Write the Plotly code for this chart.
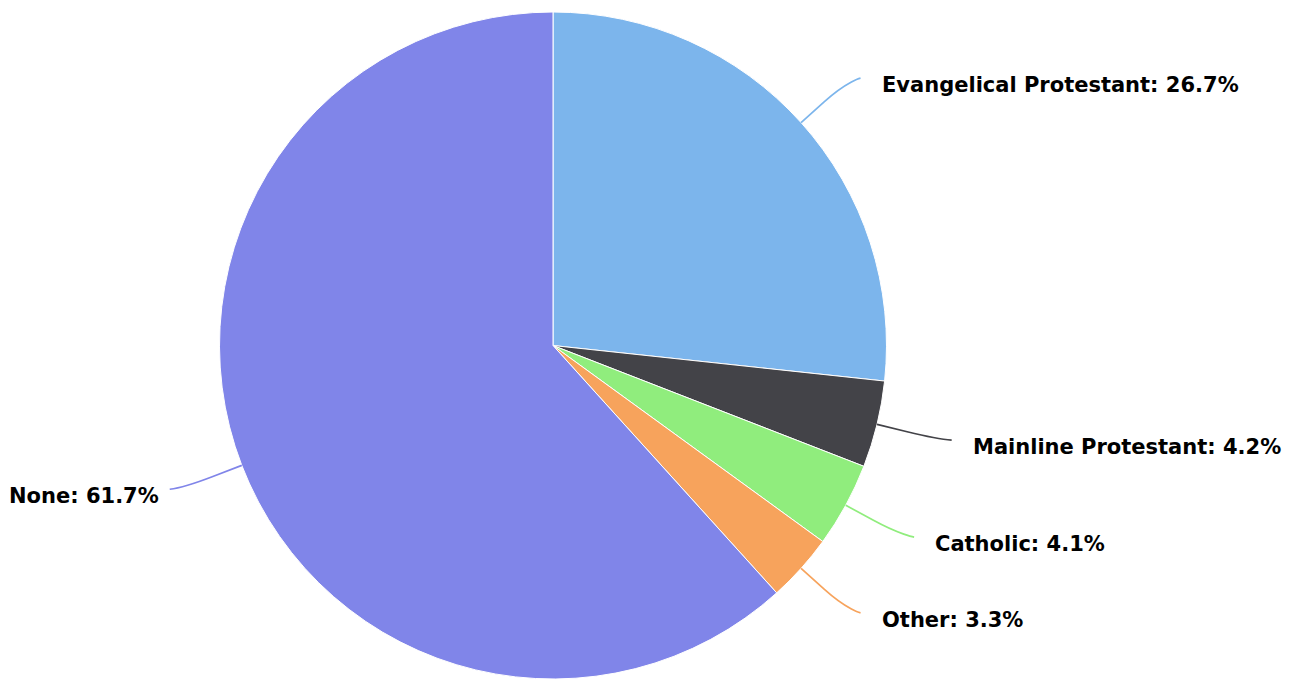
import math
import plotly.graph_objects as go

# Religious affiliation shares (percent)
labels = ["Evangelical Protestant", "Mainline Protestant", "Catholic", "Other", "None"]
values = [26.7, 4.2, 4.1, 3.3, 61.7]
colors = ["#7cb5ec", "#434348", "#90ed7d", "#f7a35c", "#8085e9"]

W, H = 1292, 679
MT, MB = 12, 0
plot_h = H - MT - MB
R = plot_h / 2.0            # pie radius in pixels
CX, CY = 553.0, MT + R      # pie centre in pixels
LABEL_R = 400.0             # radius where label connectors end
BREAK_R = R + 31.0          # radius where connectors start to bend


def px(x):
    return x / W


def py(y):
    return (H - MB - y) / plot_h


fig = go.Figure(
    go.Pie(
        labels=labels,
        values=values,
        marker=dict(colors=colors, line=dict(color="#ffffff", width=1)),
        sort=False,
        direction="clockwise",
        rotation=0,
        textinfo="none",
        showlegend=False,
        domain=dict(x=[px(CX - R), px(CX + R)], y=[0, 1]),
    )
)

shapes = []
annotations = []
total = sum(values)
cum = 0.0
for name, val, col in zip(labels, values, colors):
    mid = (cum + val / 2.0) / total * 2 * math.pi   # clockwise from 12 o'clock
    cum += val
    s, c = math.sin(mid), -math.cos(mid)            # screen direction (y down)
    right = s >= 0
    # point where the connector touches the slice
    tx, ty = CX + R * s, CY + R * c
    # bend point
    bx, by = CX + BREAK_R * s, CY + BREAK_R * c
    # label anchor point on the label circle
    ly = CY + LABEL_R * c
    dx = math.sqrt(max(LABEL_R ** 2 - (ly - CY) ** 2, 0))
    lx = CX + dx if right else CX - dx
    ex = lx + 10 if right else lx - 10
    path = (
        f"M {px(ex)},{py(ly)} "
        f"C {px(ex)},{py(ly)} {px(2 * bx - tx)},{py(2 * by - ty)} {px(bx)},{py(by)} "
        f"L {px(tx)},{py(ty)}"
    )
    shapes.append(dict(type="path", path=path, xref="paper", yref="paper",
                       line=dict(color=col, width=1.7)))
    text_x = lx + 29 if right else lx - 19
    annotations.append(dict(
        x=px(text_x), y=py(ly + 7), xref="paper", yref="paper",
        text=f"<b>{name}: {val:.1f}%</b>", showarrow=False,
        xanchor="left" if right else "right", yanchor="middle",
        font=dict(family="DejaVu Sans", size=21, color="#000000"),
    ))

fig.update_layout(
    width=W, height=H,
    margin=dict(l=0, r=0, t=MT, b=MB),
    paper_bgcolor="#ffffff",
    plot_bgcolor="#ffffff",
    shapes=shapes,
    annotations=annotations,
)

fig.write_html("out.html")
